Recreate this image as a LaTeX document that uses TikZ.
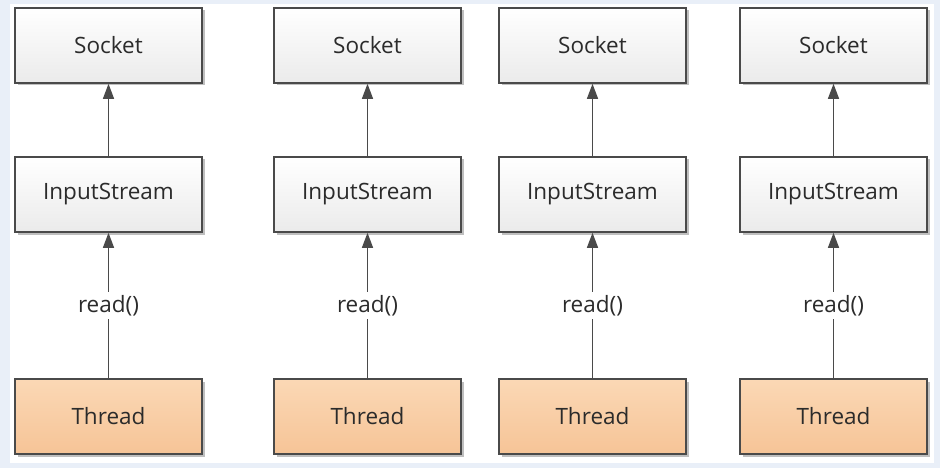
\documentclass[tikz,border=0pt]{standalone}
\usepackage{fontspec}
\setmainfont{Open Sans}
\usetikzlibrary{arrows.meta,shadows}
\definecolor{bgblue}{HTML}{E9EFF8}
\definecolor{boxline}{HTML}{4A4A4A}
\definecolor{txt}{HTML}{2B2B2B}
\definecolor{thrtop}{HTML}{FBD8B5}
\definecolor{thrbot}{HTML}{F6C497}
\tikzset{
  box/.style={draw=boxline, line width=1.6pt, minimum width=187pt, minimum height=75pt,
    inner sep=0pt, text=txt, font=\fontsize{22.5}{27}\selectfont,
    top color=white, bottom color=black!8,
    drop shadow={shadow xshift=2.5pt, shadow yshift=-2.5pt, fill=black, opacity=0.25}},
  thread/.style={box, top color=thrtop, bottom color=thrbot},
  conn/.style={draw=boxline, line width=1.3pt, -{Triangle[width=11pt,length=15pt]}},
  lbl/.style={fill=white, text=txt, font=\fontsize{22.5}{27}\selectfont, inner sep=3pt}
}
\begin{document}
\begin{tikzpicture}[x=1pt,y=-1pt]
\fill[bgblue] (0,0) rectangle (940,468);
\fill[white] (10,4) rectangle (934,463);
\useasboundingbox (0,0) rectangle (940,468);
\foreach \i/\cx in {1/108.5,2/367.5,3/592.5,4/833.5}{
  \node[box] (s\i) at (\cx,45.5) {Socket};
  \node[box] (in\i) at (\cx,194.5) {InputStream};
  \node[thread] (t\i) at (\cx,416.5) {Thread};
  \draw[conn] (in\i) -- (s\i);
  \draw[conn] (t\i) -- node[lbl] {read()} (in\i);
}
\end{tikzpicture}
\end{document}
